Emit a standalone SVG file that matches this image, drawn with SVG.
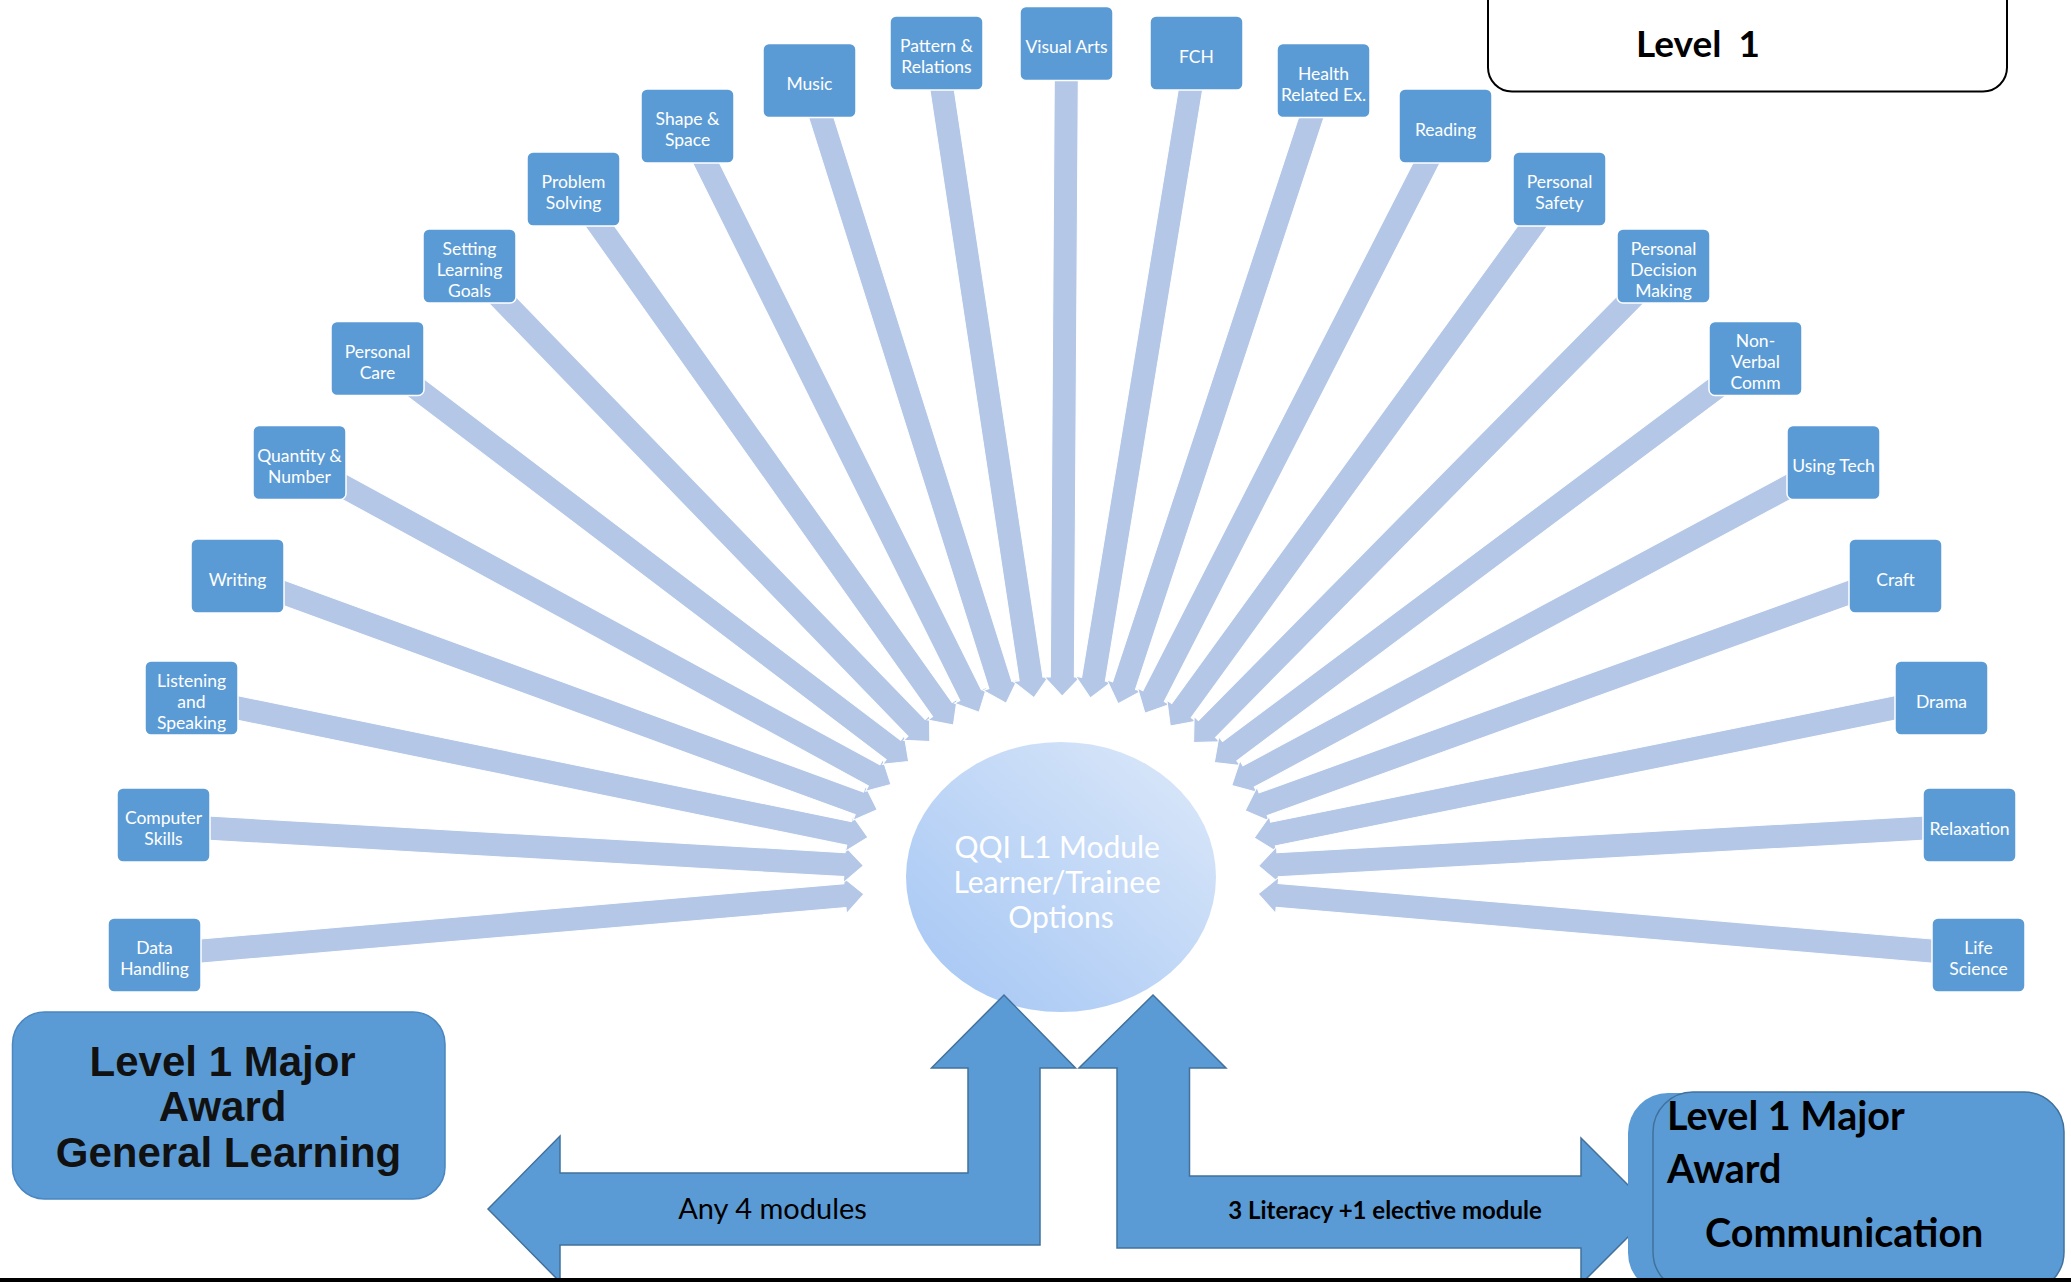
<svg xmlns="http://www.w3.org/2000/svg" width="2071" height="1282" viewBox="0 0 2071 1282">
<defs>
<linearGradient id="eg" x1="0" y1="1" x2="1" y2="0">
<stop offset="0" stop-color="#a3c5f4"/>
<stop offset="1" stop-color="#dde9f9"/>
</linearGradient>
<style>
.node rect{fill:#5b9bd5;stroke:#fff;stroke-width:1.5}
.node text{font-family:Lato,"Open Sans",sans-serif;font-size:17.5px;fill:#fff;text-anchor:middle}
.conn path{fill:#b4c7e7;stroke:#fff;stroke-width:1}
.big{fill:#5b9bd5;stroke:#41719c;stroke-width:1.5}
.lbl{font-family:Lato,"Open Sans",sans-serif;fill:#000}
</style>
</defs>
<rect width="2071" height="1282" fill="#fff"/>
<g id="title-box">
<rect x="1488" y="-40" width="519" height="131.5" rx="24" fill="#fff" stroke="#000" stroke-width="2"/>
<text x="1636" y="57" class="lbl" font-size="37" font-weight="bold" word-spacing="8">Level 1</text>
</g>
<g id="connectors" class="conn">
<path transform="translate(863.9,894) rotate(-4.92)" d="M0,0 L-19,-18 L-19,-12 L-712,-12 L-712,12 L-19,12 L-19,18 Z"/>
<path transform="translate(863.4,865.7) rotate(3.28)" d="M0,0 L-19,-18 L-19,-12 L-701,-12 L-701,12 L-19,12 L-19,18 Z"/>
<path transform="translate(867.8,837.3) rotate(11.6)" d="M0,0 L-19,-18 L-19,-12 L-690,-12 L-690,12 L-19,12 L-19,18 Z"/>
<path transform="translate(877.2,809.8) rotate(20.08)" d="M0,0 L-19,-18 L-19,-12 L-681,-12 L-681,12 L-19,12 L-19,18 Z"/>
<path transform="translate(890.9,784.4) rotate(28.56)" d="M0,0 L-19,-18 L-19,-12 L-673,-12 L-673,12 L-19,12 L-19,18 Z"/>
<path transform="translate(908.6,761.4) rotate(37.18)" d="M0,0 L-19,-18 L-19,-12 L-667,-12 L-667,12 L-19,12 L-19,18 Z"/>
<path transform="translate(929.8,741.5) rotate(45.93)" d="M0,0 L-19,-18 L-19,-12 L-662,-12 L-662,12 L-19,12 L-19,18 Z"/>
<path transform="translate(953.4,725.1) rotate(54.68)" d="M0,0 L-19,-18 L-19,-12 L-657,-12 L-657,12 L-19,12 L-19,18 Z"/>
<path transform="translate(979.1,712.2) rotate(63.56)" d="M0,0 L-19,-18 L-19,-12 L-655,-12 L-655,12 L-19,12 L-19,18 Z"/>
<path transform="translate(1006.1,703.1) rotate(72.48)" d="M0,0 L-19,-18 L-19,-12 L-653,-12 L-653,12 L-19,12 L-19,18 Z"/>
<path transform="translate(1033.9,697.7) rotate(81.41)" d="M0,0 L-19,-18 L-19,-12 L-652,-12 L-652,12 L-19,12 L-19,18 Z"/>
<path transform="translate(1062.2,696) rotate(90.38)" d="M0,0 L-19,-18 L-19,-12 L-652,-12 L-652,12 L-19,12 L-19,18 Z"/>
<path transform="translate(1090.4,698) rotate(99.34)" d="M0,0 L-19,-18 L-19,-12 L-654,-12 L-654,12 L-19,12 L-19,18 Z"/>
<path transform="translate(1118.1,703.7) rotate(108.24)" d="M0,0 L-19,-18 L-19,-12 L-656,-12 L-656,12 L-19,12 L-19,18 Z"/>
<path transform="translate(1144.9,713.1) rotate(117.11)" d="M0,0 L-19,-18 L-19,-12 L-660,-12 L-660,12 L-19,12 L-19,18 Z"/>
<path transform="translate(1170.3,726.1) rotate(125.92)" d="M0,0 L-19,-18 L-19,-12 L-663,-12 L-663,12 L-19,12 L-19,18 Z"/>
<path transform="translate(1193.6,742.6) rotate(134.6)" d="M0,0 L-19,-18 L-19,-12 L-669,-12 L-669,12 L-19,12 L-19,18 Z"/>
<path transform="translate(1214.4,762.5) rotate(143.26)" d="M0,0 L-19,-18 L-19,-12 L-675,-12 L-675,12 L-19,12 L-19,18 Z"/>
<path transform="translate(1231.8,785.4) rotate(151.79)" d="M0,0 L-19,-18 L-19,-12 L-683,-12 L-683,12 L-19,12 L-19,18 Z"/>
<path transform="translate(1245.2,810.6) rotate(160.16)" d="M0,0 L-19,-18 L-19,-12 L-691,-12 L-691,12 L-19,12 L-19,18 Z"/>
<path transform="translate(1254.3,837.8) rotate(168.54)" d="M0,0 L-19,-18 L-19,-12 L-701,-12 L-701,12 L-19,12 L-19,18 Z"/>
<path transform="translate(1258.6,865.8) rotate(176.76)" d="M0,0 L-19,-18 L-19,-12 L-712,-12 L-712,12 L-19,12 L-19,18 Z"/>
<path transform="translate(1258.2,893.8) rotate(184.86)" d="M0,0 L-19,-18 L-19,-12 L-723,-12 L-723,12 L-19,12 L-19,18 Z"/>
</g>
<g id="center">
<ellipse cx="1061" cy="877" rx="155" ry="135" fill="url(#eg)"/>
<text font-family="Lato,'Open Sans',sans-serif" font-size="30" fill="#fff" text-anchor="middle">
<tspan x="1061" y="858">QQI L1 Module</tspan>
<tspan x="1061" y="893">Learner/Trainee</tspan>
<tspan x="1061" y="928">Options</tspan>
</text>
</g>
<g id="n-data-handling" class="node"><rect x="108" y="918" width="93" height="74" rx="6"/><text x="154.5" y="954">Data</text><text x="154.5" y="975">Handling</text></g>
<g id="n-computer-skills" class="node"><rect x="117" y="788" width="93" height="74" rx="6"/><text x="163.5" y="824">Computer</text><text x="163.5" y="845">Skills</text></g>
<g id="n-listening" class="node"><rect x="145" y="661" width="93" height="74" rx="6"/><text x="191.5" y="686.5">Listening</text><text x="191.5" y="707.5">and</text><text x="191.5" y="728.5">Speaking</text></g>
<g id="n-writing" class="node"><rect x="191" y="539" width="93" height="74" rx="6"/><text x="237.5" y="585.5">Writing</text></g>
<g id="n-quantity" class="node"><rect x="253" y="425.5" width="93" height="74" rx="6"/><text x="299.5" y="461.5">Quantity &amp;</text><text x="299.5" y="482.5">Number</text></g>
<g id="n-personal-care" class="node"><rect x="331" y="321.5" width="93" height="74" rx="6"/><text x="377.5" y="357.5">Personal</text><text x="377.5" y="378.5">Care</text></g>
<g id="n-setting-goals" class="node"><rect x="423" y="229" width="93" height="74" rx="6"/><text x="469.5" y="254.5">Setting</text><text x="469.5" y="275.5">Learning</text><text x="469.5" y="296.5">Goals</text></g>
<g id="n-problem-solving" class="node"><rect x="527" y="152" width="93" height="74" rx="6"/><text x="573.5" y="188">Problem</text><text x="573.5" y="209">Solving</text></g>
<g id="n-shape-space" class="node"><rect x="641" y="89" width="93" height="74" rx="6"/><text x="687.5" y="125">Shape &amp;</text><text x="687.5" y="146">Space</text></g>
<g id="n-music" class="node"><rect x="763" y="43.5" width="93" height="74" rx="6"/><text x="809.5" y="90">Music</text></g>
<g id="n-pattern" class="node"><rect x="890" y="16" width="93" height="74" rx="6"/><text x="936.5" y="52">Pattern &amp;</text><text x="936.5" y="73">Relations</text></g>
<g id="n-visual-arts" class="node"><rect x="1020" y="6.5" width="93" height="74" rx="6"/><text x="1066.5" y="53">Visual Arts</text></g>
<g id="n-fch" class="node"><rect x="1150" y="16" width="93" height="74" rx="6"/><text x="1196.5" y="62.5">FCH</text></g>
<g id="n-health" class="node"><rect x="1277" y="43.5" width="93" height="74" rx="6"/><text x="1323.5" y="79.5">Health</text><text x="1323.5" y="100.5">Related Ex.</text></g>
<g id="n-reading" class="node"><rect x="1399" y="89" width="93" height="74" rx="6"/><text x="1445.5" y="135.5">Reading</text></g>
<g id="n-personal-safety" class="node"><rect x="1513" y="152" width="93" height="74" rx="6"/><text x="1559.5" y="188">Personal</text><text x="1559.5" y="209">Safety</text></g>
<g id="n-decision" class="node"><rect x="1617" y="229" width="93" height="74" rx="6"/><text x="1663.5" y="254.5">Personal</text><text x="1663.5" y="275.5">Decision</text><text x="1663.5" y="296.5">Making</text></g>
<g id="n-nonverbal" class="node"><rect x="1709" y="321.5" width="93" height="74" rx="6"/><text x="1755.5" y="347">Non-</text><text x="1755.5" y="368">Verbal</text><text x="1755.5" y="389">Comm</text></g>
<g id="n-using-tech" class="node"><rect x="1787" y="425.5" width="93" height="74" rx="6"/><text x="1833.5" y="472">Using Tech</text></g>
<g id="n-craft" class="node"><rect x="1849" y="539" width="93" height="74" rx="6"/><text x="1895.5" y="585.5">Craft</text></g>
<g id="n-drama" class="node"><rect x="1895" y="661" width="93" height="74" rx="6"/><text x="1941.5" y="707.5">Drama</text></g>
<g id="n-relaxation" class="node"><rect x="1923" y="788" width="93" height="74" rx="6"/><text x="1969.5" y="834.5">Relaxation</text></g>
<g id="n-life-science" class="node"><rect x="1932" y="918" width="93" height="74" rx="6"/><text x="1978.5" y="954">Life</text><text x="1978.5" y="975">Science</text></g>
<g id="bottom-arrows">
<path class="big" d="M488,1209 L560,1136 L560,1173 L968,1173 L968,1068 L931.5,1068 L1004,995 L1075.5,1068 L1040,1068 L1040,1245 L560,1245 L560,1282 Z"/>
<path class="big" d="M1153,995 L1226,1068 L1189.5,1068 L1189.5,1176 L1581,1176 L1581,1138 L1654,1211 L1581,1284 L1581,1248 L1117,1248 L1117,1068 L1079,1068 Z"/>
<text x="772.5" y="1219" class="lbl" font-size="29" text-anchor="middle">Any 4 modules</text>
<text x="1385" y="1219" class="lbl" font-size="24" font-weight="bold" text-anchor="middle">3 Literacy +1 elective module</text>
</g>
<g id="award-general">
<rect x="12.5" y="1012" width="432.5" height="187" rx="32" fill="#5b9bd5" stroke="#4a86c0" stroke-width="1.5"/>
<text font-family="'Liberation Sans',Arial,sans-serif" font-size="42" font-weight="bold" fill="#111" text-anchor="middle">
<tspan x="228.5" y="1076">Level 1 Major</tspan>
<tspan x="228.5" y="1121">Award</tspan>
<tspan x="228.5" y="1167">General Learning</tspan>
</text>
</g>
<g id="award-communication">
<rect x="1628" y="1093" width="425" height="200" rx="40" fill="#5b9bd5"/>
<rect x="1653" y="1092" width="411" height="200" rx="40" fill="#5b9bd5" stroke="#41719c" stroke-width="1.5"/>
<text class="lbl" font-size="39.5" font-weight="bold">
<tspan x="1667" y="1130">Level 1 Major</tspan>
<tspan x="1667" y="1183">Award</tspan>
<tspan x="1705" y="1247">Communication</tspan>
</text>
</g>
<rect x="0" y="1278" width="2071" height="4" fill="#000"/>
</svg>
